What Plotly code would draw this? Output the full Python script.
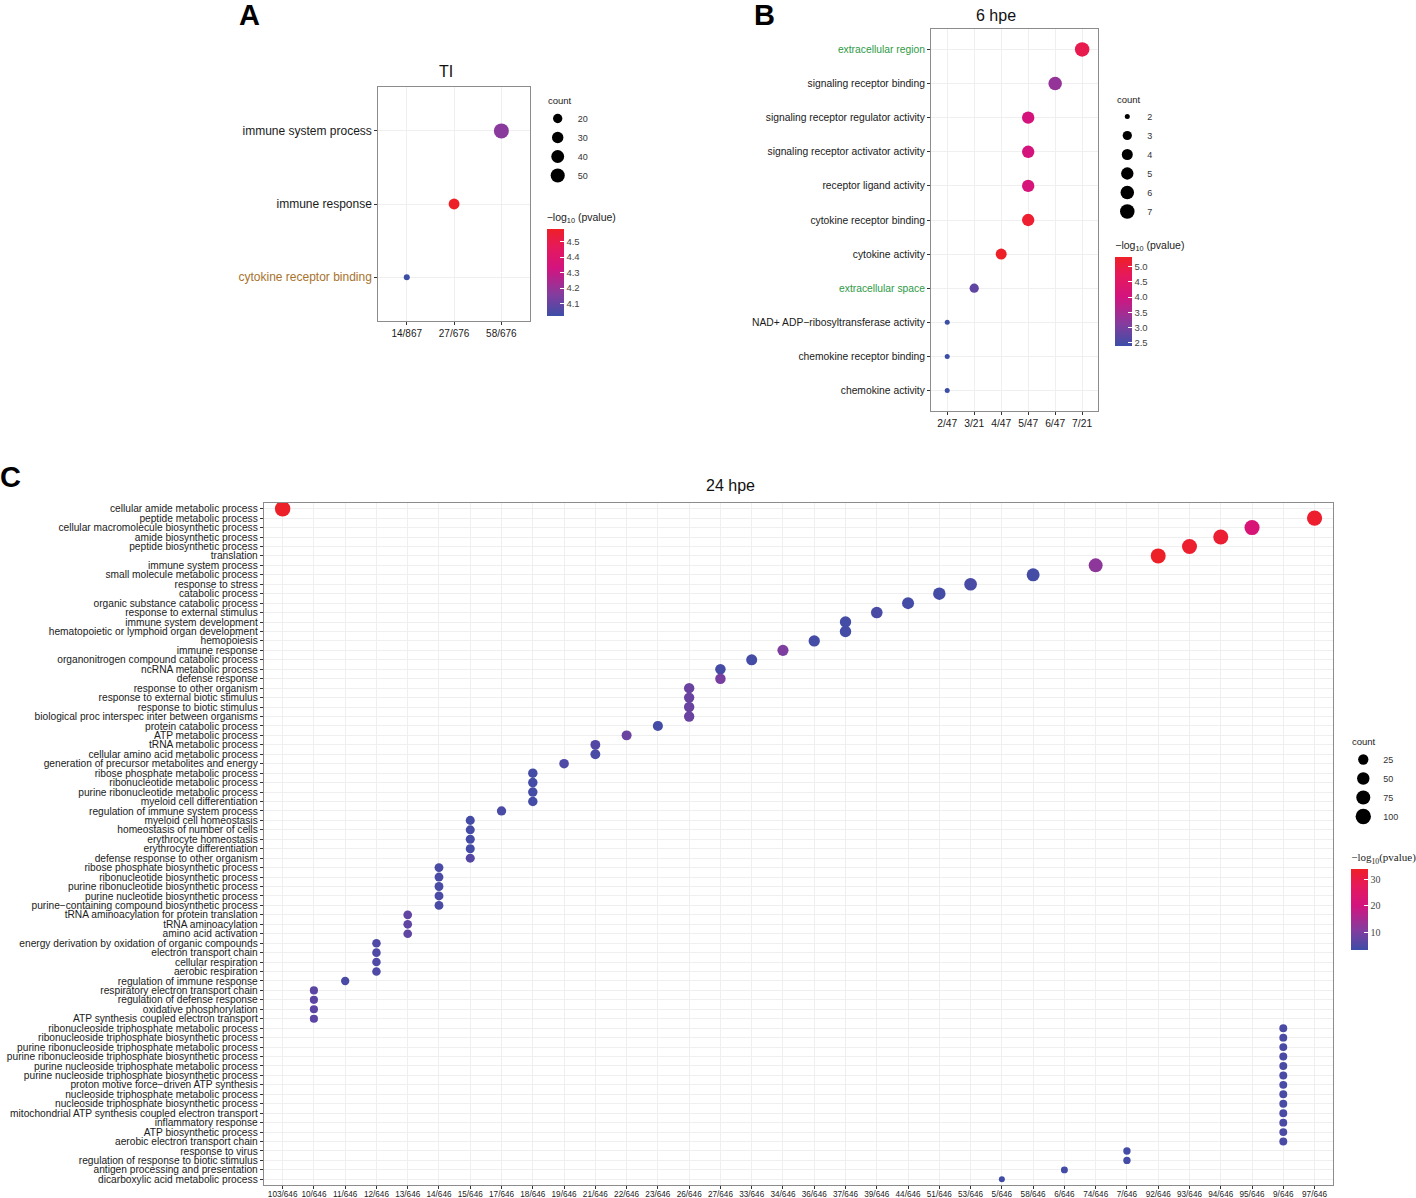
import plotly.graph_objects as go

W, H = 1416, 1198

# ── Data ────────────────────────────────────────────────────────────────────

# A : TI
a_terms = ["immune system process", "immune response", "cytokine receptor binding"]
a_ratio = ["58/676", "27/676", "14/867"]
a_count = [58, 27, 14]
a_logp = [4.17, 4.58, 4.02]
a_ratio_order = ["14/867", "27/676", "58/676"]

# B : 6 hpe
b_terms = [
    "extracellular region", "signaling receptor binding",
    "signaling receptor regulator activity", "signaling receptor activator activity",
    "receptor ligand activity", "cytokine receptor binding", "cytokine activity",
    "extracellular space", "NAD+ ADP\u2212ribosyltransferase activity",
    "chemokine receptor binding", "chemokine activity",
]
b_ratio = ["7/21", "6/47", "5/47", "5/47", "5/47", "5/47", "4/47", "3/21", "2/47", "2/47", "2/47"]
b_count = [7, 6, 5, 5, 5, 5, 4, 3, 2, 2, 2]
b_logp = [4.85, 3.30, 4.05, 4.05, 4.10, 5.20, 5.30, 2.75, 2.40, 2.40, 2.40]
b_ratio_order = ["2/47", "3/21", "4/47", "5/47", "6/47", "7/21"]

# C : 24 hpe
c_terms = [
    "cellular amide metabolic process", "peptide metabolic process",
    "cellular macromolecule biosynthetic process", "amide biosynthetic process",
    "peptide biosynthetic process", "translation", "immune system process",
    "small molecule metabolic process", "response to stress", "catabolic process",
    "organic substance catabolic process", "response to external stimulus",
    "immune system development", "hematopoietic or lymphoid organ development",
    "hemopoiesis", "immune response", "organonitrogen compound catabolic process",
    "ncRNA metabolic process", "defense response", "response to other organism",
    "response to external biotic stimulus", "response to biotic stimulus",
    "biological proc interspec inter between organisms", "protein catabolic process",
    "ATP metabolic process", "tRNA metabolic process",
    "cellular amino acid metabolic process", "generation of precursor metabolites and energy",
    "ribose phosphate metabolic process", "ribonucleotide metabolic process",
    "purine ribonucleotide metabolic process", "myeloid cell differentiation",
    "regulation of immune system process", "myeloid cell homeostasis",
    "homeostasis of number of cells", "erythrocyte homeostasis",
    "erythrocyte differentiation", "defense response to other organism",
    "ribose phosphate biosynthetic process", "ribonucleotide biosynthetic process",
    "purine ribonucleotide biosynthetic process", "purine nucleotide biosynthetic process",
    "purine\u2212containing compound biosynthetic process",
    "tRNA aminoacylation for protein translation", "tRNA aminoacylation",
    "amino acid activation", "energy derivation by oxidation of organic compounds",
    "electron transport chain", "cellular respiration", "aerobic respiration",
    "regulation of immune response", "respiratory electron transport chain",
    "regulation of defense response", "oxidative phosphorylation",
    "ATP synthesis coupled electron transport",
    "ribonucleoside triphosphate metabolic process",
    "ribonucleoside triphosphate biosynthetic process",
    "purine ribonucleoside triphosphate metabolic process",
    "purine ribonucleoside triphosphate biosynthetic process",
    "purine nucleoside triphosphate metabolic process",
    "purine nucleoside triphosphate biosynthetic process",
    "proton motive force\u2212driven ATP synthesis",
    "nucleoside triphosphate metabolic process",
    "nucleoside triphosphate biosynthetic process",
    "mitochondrial ATP synthesis coupled electron transport",
    "inflammatory response", "ATP biosynthetic process",
    "aerobic electron transport chain", "response to virus",
    "regulation of response to biotic stimulus", "antigen processing and presentation",
    "dicarboxylic acid metabolic process",
]
c_count = [
    103, 97, 95, 94, 93, 92, 74, 58, 53, 51, 44, 39, 37, 37, 36, 34, 33, 27, 27, 26,
    26, 26, 26, 23, 22, 21, 21, 19, 18, 18, 18, 18, 17, 15, 15, 15, 15, 15, 14, 14,
    14, 14, 14, 13, 13, 13, 12, 12, 12, 12, 11, 10, 10, 10, 10, 9, 9, 9, 9, 9,
    9, 9, 9, 9, 9, 9, 9, 9, 7, 7, 6, 5,
]
c_logp = [
    34.0, 33.0, 22.0, 32.5, 33.0, 34.0, 12.0, 4.0, 4.5, 4.0, 4.0, 4.5, 4.0, 4.0, 4.0, 10.0,
    4.0, 4.0, 9.5, 8.0, 8.0, 8.0, 8.0, 4.0, 8.0, 5.5, 4.5, 5.0, 4.0, 4.0, 4.0, 4.0,
    4.5, 4.0, 4.0, 4.0, 4.0, 6.0, 4.5, 4.5, 4.5, 4.5, 4.5, 7.0, 7.0, 7.0, 5.0, 5.0,
    5.0, 5.0, 4.5, 6.5, 6.5, 6.5, 6.5, 4.5, 4.5, 4.5, 4.5, 4.5, 4.5, 4.5, 4.5, 4.5,
    4.5, 4.5, 4.5, 4.5, 4.0, 4.0, 4.0, 3.5,
]
c_ratio = [f"{n}/646" for n in c_count]
c_ratio_order = [
    "103/646", "10/646", "11/646", "12/646", "13/646", "14/646", "15/646", "17/646",
    "18/646", "19/646", "21/646", "22/646", "23/646", "26/646", "27/646", "33/646",
    "34/646", "36/646", "37/646", "39/646", "44/646", "51/646", "53/646", "5/646",
    "58/646", "6/646", "74/646", "7/646", "92/646", "93/646", "94/646", "95/646",
    "9/646", "97/646",
]

# ── Style ───────────────────────────────────────────────────────────────────

ARIAL = "Liberation Sans, Arial, sans-serif"
SERIF = "Liberation Serif, Times New Roman, serif"
GRAD = [[0.0, "#3D4EA7"], [0.25, "#853C9E"], [0.55, "#D3147F"],
        [0.8, "#E6195A"], [1.0, "#EE2027"]]
GREEN = "#2E9A48"
BROWN = "#A8732C"
FRAME = "#8C8C8C"
GRID = "#EFEFEF"
INK = "#1a1a1a"


def px_x(p):
    return p / W


def px_y(p):
    return 1 - p / H


def dot_size(c, cmin, cmax, dmin, dmax):
    return dmin + (dmax - dmin) * ((c - cmin) / (cmax - cmin)) ** 0.5


def add_panel(fig, k, terms, ratios, counts, logp, xorder, size_rng, dom, yfont, xfont,
              tick_colors=None, legend_vals=(), legend_name="legend", x_standoff=0):
    sfx = "" if k == 1 else str(k)
    cmin, cmax = min(counts), max(counts)
    sizes = [dot_size(c, cmin, cmax, *size_rng) for c in counts]
    fig.add_trace(go.Scatter(
        x=ratios, y=terms, mode="markers", showlegend=False,
        xaxis="x" + sfx, yaxis="y" + sfx,
        marker=dict(size=sizes, color=logp, coloraxis="coloraxis" + sfx,
                    line=dict(width=0), opacity=1),
    ))
    for v in legend_vals:
        fig.add_trace(go.Scatter(
            x=[None], y=[None], mode="markers", name=str(v), legend=legend_name,
            xaxis="x" + sfx, yaxis="y" + sfx,
            marker=dict(size=dot_size(v, cmin, cmax, *size_rng), color="black"),
        ))
    ticktext = []
    for t in terms:
        col = (tick_colors or {}).get(t)
        ticktext.append(f"<span style='color:{col}'>{t}</span>" if col else t)
    n, m = len(xorder), len(terms)
    axis_common = dict(showline=True, mirror=True, linecolor=FRAME, linewidth=1.2,
                       showgrid=True, gridcolor=GRID, gridwidth=1, zeroline=False,
                       ticks="outside", ticklen=3, tickcolor="#333",
                       automargin=False, fixedrange=True)
    fig.update_layout(**{
        "xaxis" + sfx: dict(axis_common, domain=[px_x(dom[0]), px_x(dom[1])],
                            anchor="y" + sfx, type="category",
                            categoryorder="array", categoryarray=xorder,
                            range=[-0.6, n - 0.4], tickangle=0, tickfont=xfont,
                            ticklabelstandoff=x_standoff),
        "yaxis" + sfx: dict(axis_common, domain=[px_y(dom[3]), px_y(dom[2])],
                            anchor="x" + sfx, type="category",
                            categoryorder="array", categoryarray=terms,
                            tickvals=terms, ticktext=ticktext, tickfont=yfont,
                            range=[m - 0.4, -0.6]),
    })


fig = go.Figure()

add_panel(fig, 1, a_terms, a_ratio, a_count, a_logp, a_ratio_order, (6, 15),
          (380, 532, 87, 321), dict(family=ARIAL, size=12, color=INK),
          dict(family=ARIAL, size=10, color=INK),
          tick_colors={"cytokine receptor binding": BROWN},
          legend_vals=(20, 30, 40, 50), legend_name="legend")
add_panel(fig, 2, b_terms, b_ratio, b_count, b_logp, b_ratio_order, (5, 14.5),
          (935, 1103, 29, 411), dict(family=ARIAL, size=10.3, color=INK),
          dict(family=ARIAL, size=10.3, color=INK),
          tick_colors={"extracellular region": GREEN, "extracellular space": GREEN},
          legend_vals=(2, 3, 4, 5, 6, 7), legend_name="legend2")
add_panel(fig, 3, c_terms, c_ratio, c_count, c_logp, c_ratio_order, (6, 15.5),
          (265, 1339, 503, 1185), dict(family=ARIAL, size=10.2, color=INK),
          dict(family=ARIAL, size=8.2, color=INK),
          legend_vals=(25, 50, 75, 100), legend_name="legend3", x_standoff=-2)


def cbar(x0, y_bottom, length, tickvals, title, fam, tsize, fmt):
    return dict(
        x=px_x(x0), xanchor="left", xpad=0, y=px_y(y_bottom), yanchor="bottom", ypad=0,
        len=length, lenmode="pixels", thickness=17, thicknessmode="pixels",
        outlinewidth=0, ticks="inside", ticklen=4, tickcolor="white", tickwidth=1,
        tickvals=tickvals, tickformat=fmt,
        tickfont=dict(family=fam, size=tsize, color="#444"),
        title=dict(text=title, side="top", font=dict(family=fam, size=tsize + 1, color="#222")),
    )


LOGP = "\u2212log<sub>10</sub> (pvalue)"
fig.update_layout(
    coloraxis=dict(colorscale=GRAD, cmin=min(a_logp), cmax=max(a_logp),
                   colorbar=cbar(549, 316, 106, [4.1, 4.2, 4.3, 4.4, 4.5], LOGP, ARIAL, 9.5, ".1f")),
    coloraxis2=dict(colorscale=GRAD, cmin=min(b_logp), cmax=max(b_logp),
                    colorbar=cbar(1120, 346, 108, [2.5, 3.0, 3.5, 4.0, 4.5, 5.0], LOGP, ARIAL, 9.5, ".1f")),
    coloraxis3=dict(colorscale=GRAD, cmin=3.2, cmax=max(c_logp),
                    colorbar=cbar(1357, 950, 100, [10, 20, 30],
                                  "\u2212log<sub>10</sub>(pvalue)", SERIF, 10, "d")),
)

# size legends ("count"), one per panel
leg = dict(xanchor="left", yanchor="top", itemsizing="trace", tracegroupgap=0,
           bgcolor="rgba(0,0,0,0)", font=dict(family=ARIAL, size=9, color="#333"),
           itemwidth=30)
fig.update_layout(
    legend=dict(leg, x=px_x(557 - 17), y=px_y(104)),
    legend2=dict(leg, x=px_x(1129 - 17), y=px_y(102)),
    legend3=dict(leg, x=px_x(1366 - 17), y=px_y(745)),
)
for x, y in [(548, 100), (1120, 99), (1356, 741)]:
    fig.add_annotation(text="count", x=px_x(x), y=px_y(y), xref="paper", yref="paper",
                       xanchor="left", yanchor="middle", showarrow=False,
                       font=dict(family=ARIAL, size=9.5, color="#222"))

# panel letters and titles
for txt, x, y in [("A", 251, 15), ("B", 768, 15), ("C", 11, 477)]:
    fig.add_annotation(text=f"<b>{txt}</b>", x=px_x(x), y=px_y(y), xref="paper", yref="paper",
                       xanchor="center", yanchor="middle", showarrow=False,
                       font=dict(family=ARIAL, size=29, color="black"))
for txt, x, y in [("TI", 448, 72), ("6 hpe", 1000, 16), ("24 hpe", 734, 486)]:
    fig.add_annotation(text=txt, x=px_x(x), y=px_y(y), xref="paper", yref="paper",
                       xanchor="center", yanchor="middle", showarrow=False,
                       font=dict(family=ARIAL, size=16, color="#111"))

fig.update_layout(width=W, height=H, margin=dict(l=0, r=0, t=0, b=0),
                  paper_bgcolor="white", plot_bgcolor="white")

# drop the browser's default 8px body margin so the figure sits at the page origin
fig.write_html("out.html", config={"displayModeBar": False},
               post_script="document.body.style.margin = '0px';")
